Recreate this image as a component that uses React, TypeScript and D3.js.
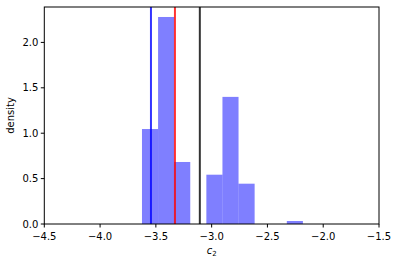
import * as d3 from "d3";

const binEdgesLo = -3.6245;
const binEdgesHi = -2.182;
const densities = [1.046, 2.28, 0.683, 0, 0.543, 1.4, 0.444, 0, 0, 0.033];
const xTicks = [-4.5, -4.0, -3.5, -3.0, -2.5, -2.0, -1.5];
const yTicks = [0, 0.5, 1.0, 1.5, 2.0];
const vLines = [
  { x: -3.544, color: "#0000ff" },
  { x: -3.329, color: "#ff0000" },
  { x: -3.106, color: "#000000" },
];

const W = 398;
const H = 264;
const margin = { top: 7, right: 19, bottom: 40, left: 44.3 };

export default function App() {
  const x = d3
    .scaleLinear()
    .domain([-4.5, -1.5])
    .range([margin.left, W - margin.right]);
  const y = d3
    .scaleLinear()
    .domain([0, 2.39])
    .range([H - margin.bottom, margin.top]);

  const step = (binEdgesHi - binEdgesLo) / densities.length;
  const bins = densities.map((d, i) => ({
    x0: binEdgesLo + i * step,
    x1: binEdgesLo + (i + 1) * step,
    d,
  }));

  const y0 = y(0);
  const font = "DejaVu Sans, sans-serif";

  return (
    <div style={{ position: "absolute", left: 0, top: 0 }}>
      <svg width={W} height={H} style={{ display: "block", background: "#fff" }}>
        {bins
          .filter((b) => b.d > 0)
          .map((b, i) => (
            <rect
              key={i}
              x={x(b.x0)}
              y={y(b.d)}
              width={x(b.x1) - x(b.x0)}
              height={y0 - y(b.d)}
              fill="#0000ff"
              fillOpacity={0.5}
            />
          ))}
        {vLines.map((l, i) => (
          <line
            key={i}
            x1={x(l.x)}
            x2={x(l.x)}
            y1={margin.top}
            y2={y0}
            stroke={l.color}
            strokeOpacity={0.8}
            strokeWidth={2}
          />
        ))}
        <rect
          x={margin.left}
          y={margin.top}
          width={W - margin.right - margin.left}
          height={y0 - margin.top}
          fill="none"
          stroke="#000"
          strokeWidth={1}
        />
        {xTicks.map((t) => (
          <g key={t} transform={`translate(${x(t)},${y0})`}>
            <line y2={3.5} stroke="#000" />
            <text
              y={16}
              textAnchor="middle"
              fontSize={10}
              fontFamily={font}
              fill="#000"
            >
              {t.toFixed(1).replace("-", "\u2212")}
            </text>
          </g>
        ))}
        {yTicks.map((t) => (
          <g key={t} transform={`translate(${margin.left},${y(t)})`}>
            <line x2={-3.5} stroke="#000" />
            <text
              x={-6}
              dy="0.35em"
              textAnchor="end"
              fontSize={10}
              fontFamily={font}
              fill="#000"
            >
              {t.toFixed(1)}
            </text>
          </g>
        ))}
        <text
          transform={`translate(14,${(margin.top + y0) / 2}) rotate(-90)`}
          textAnchor="middle"
          fontSize={10}
          fontFamily={font}
          fill="#000"
        >
          density
        </text>
        <text
          x={x(-3.0)}
          y={254}
          textAnchor="middle"
          fontSize={10}
          fontFamily={font}
          fill="#000"
        >
          <tspan fontStyle="italic">c</tspan>
          <tspan fontSize={7} dy={2}>2</tspan>
        </text>
      </svg>
    </div>
  );
}
